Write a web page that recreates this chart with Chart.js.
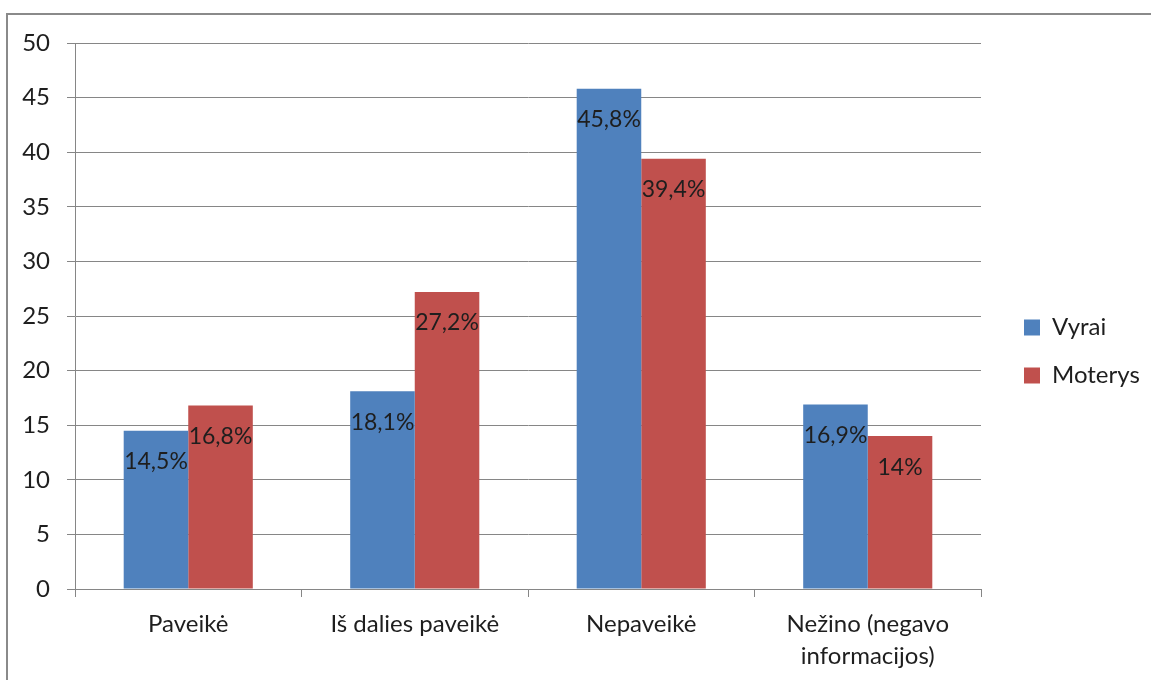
<!DOCTYPE html>
<html>
<head>
<meta charset="utf-8">
<script src="https://cdn.jsdelivr.net/npm/chart.js@4/dist/chart.umd.min.js"></script>
<style>
  html, body { margin: 0; padding: 0; background: #fff; overflow: hidden; }
  #wrap { position: relative; width: 1151px; height: 680px; }
  #frame {
    position: absolute; left: 6px; top: 13px; width: 1200px; height: 720px;
    border: 2px solid #8a8a8a; box-sizing: border-box; pointer-events: none;
  }
  canvas { position: absolute; left: 0; top: 0; }
</style>
</head>
<body>
<div id="wrap">
  <canvas id="chart" width="1151" height="680"></canvas>
  <div id="frame"></div>
</div>
<script>
const categories = ['Paveikė', 'Iš dalies paveikė', 'Nepaveikė', ['Nežino (negavo', 'informacijos)']];
const vyrai = [14.5, 18.1, 45.8, 16.9];
const moterys = [16.8, 27.2, 39.4, 14];
const yTicks = [0, 5, 10, 15, 20, 25, 30, 35, 40, 45, 50];

const FONT = 'Lato, "Open Sans", sans-serif';
const gridColor = '#868686';
const textColor = '#1e1e1e';

function fmtPct(v) {
  return String(v).replace('.', ',') + '%';
}

// labels inside the top of each bar
const barLabels = {
  id: 'barLabels',
  afterDatasetsDraw(chart) {
    const ctx = chart.ctx;
    ctx.save();
    ctx.font = '23px ' + FONT;
    ctx.fillStyle = textColor;
    ctx.textAlign = 'center';
    ctx.textBaseline = 'middle';
    chart.data.datasets.forEach((ds, i) => {
      chart.getDatasetMeta(i).data.forEach((bar, j) => {
        ctx.fillText(fmtPct(ds.data[j]), bar.x, bar.y + 31);
      });
    });
    ctx.restore();
  }
};

// keep legend at a fixed width and nudge it where the original sits
const legendPlace = {
  id: 'legendPlace',
  beforeLayout(chart) {
    const lg = chart.legend;
    if (!lg || lg.fitPatched) return;
    const fit = lg.fit;
    lg.fit = function () {
      fit.call(this);
      this.width = 170;
    };
    lg.fitPatched = true;
  },
  afterLayout(chart) {
    const lg = chart.legend;
    lg.left = 1000;
    lg.top -= 10;
    lg.bottom -= 10;
  }
};

const ctx = document.getElementById('chart').getContext('2d');
new Chart(ctx, {
  type: 'bar',
  data: {
    labels: categories,
    datasets: [
      { label: 'Vyrai', data: vyrai, backgroundColor: '#4F81BD' },
      { label: 'Moterys', data: moterys, backgroundColor: '#C0504D' }
    ]
  },
  options: {
    responsive: false,
    animation: false,
    devicePixelRatio: 1,
    layout: { padding: { top: 43, left: 0, right: 0, bottom: 0 } },
    datasets: {
      bar: { categoryPercentage: 0.57, barPercentage: 1 }
    },
    scales: {
      x: {
        afterFit: s => { s.height = 91; },
        grid: {
          offset: true,
          drawOnChartArea: false,
          drawTicks: true,
          tickLength: 8,
          color: gridColor
        },
        border: { color: gridColor },
        ticks: {
          color: textColor,
          padding: 12,
          maxRotation: 0,
          font: { family: FONT, size: 24, lineHeight: 1.3 }
        }
      },
      y: {
        min: 0,
        max: 50,
        afterFit: s => { s.width = 75; },
        afterBuildTicks: s => { s.ticks = yTicks.map(v => ({ value: v })); },
        grid: { color: gridColor, tickLength: 8 },
        border: { color: gridColor },
        ticks: {
          color: textColor,
          padding: 17,
          font: { family: FONT, size: 24 }
        }
      }
    },
    plugins: {
      legend: {
        position: 'right',
        labels: {
          color: textColor,
          boxWidth: 16,
          boxHeight: 16,
          padding: 24,
          font: { family: FONT, size: 24 }
        }
      },
      tooltip: { enabled: false }
    }
  },
  plugins: [barLabels, legendPlace]
});
</script>
</body>
</html>
